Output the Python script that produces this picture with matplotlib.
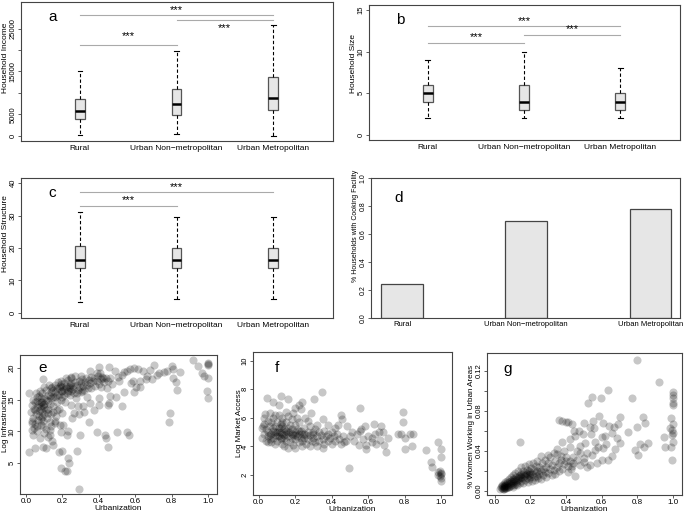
import numpy as np
import matplotlib
matplotlib.use("Agg")
import matplotlib.pyplot as plt

plt.rcParams['font.family'] = ['Liberation Sans', 'DejaVu Sans']

# ---- data ----
groups = ["Rural", "Urban Non\u2212metropolitan", "Urban Metropolitan"]

# boxplot summaries: whisker low, q1, median, q3, whisker high
income_stats = [(300, 4040, 5740, 8540, 15200),
                (470, 4970, 7370, 10940, 19870),
                (80, 5980, 8920, 13810, 25760)]
size_stats = [(2, 4, 5, 6, 9),
              (2, 3, 4, 6, 10),
              (2, 3, 4, 5, 8)]
structure_stats = [(3.3, 13.7, 16.4, 20.7, 31.1),
                   (4.35, 13.7, 16.3, 20.0, 29.5),
                   (4.35, 13.7, 16.2, 20.0, 29.5)]

# significance bars: (from, to, line level, star level)
income_sig = [(1, 3, 28100, 29300), (2, 3, 27080, 25200), (1, 2, 21100, 23300)]
size_sig = [(1, 3, 13.05, 13.7), (2, 3, 12.0, 12.7), (1, 2, 11.0, 11.7)]
structure_sig = [(1, 3, 37.2, 38.8), (1, 2, 33.1, 34.8)]

cooking = [0.246, 0.691, 0.778]

e_pts = [
    (0.018, 6.8), (0.294, 0.9), (0.193, 4.2), (0.224, 3.7), (0.215, 3.8), (0.237, 5.1), (0.23, 5.8),
    (0.283, 6.9), (0.184, 6.8), (0.197, 7.0), (0.096, 7.5), (0.11, 7.4), (0.05, 7.4), (0.15, 7.8),
    (0.298, 9.4), (0.226, 9.5), (0.23, 10.1), (0.19, 9.9), (0.206, 11.1), (0.187, 11.1),
    (0.349, 11.5), (0.393, 9.9), (0.436, 9.4), (0.44, 8.9), (0.449, 7.6), (0.5, 9.9), (0.555, 9.9),
    (0.564, 9.5), (0.785, 11.5), (0.794, 12.9), (0.831, 16.6), (0.496, 15.5), (0.463, 15.6),
    (0.528, 14.0), (0.54, 16.2), (0.596, 16.2), (0.629, 17.0), (0.996, 16.3), (1.0, 15.3),
    (0.969, 19.2), (0.98, 18.7), (0.919, 21.2), (0.945, 20.3), (1.0, 20.8), (1.0, 20.4), (1.0, 20.6),
    (1.0, 18.4), (0.81, 18.4), (0.827, 17.8), (0.81, 19.9), (0.8, 20.3), (0.776, 19.5), (0.757, 19.4),
    (0.73, 19.2), (0.849, 19.4), (0.702, 20.4), (0.684, 19.7), (0.665, 18.7), (0.662, 18.3),
    (0.693, 18.3), (0.72, 18.9), (0.643, 19.6), (0.596, 20.0), (0.614, 19.9), (0.574, 19.9),
    (0.555, 19.5), (0.528, 18.9), (0.504, 18.6), (0.509, 17.9), (0.54, 19.4), (0.577, 17.6),
    (0.607, 17.0), (0.588, 18.0), (0.629, 18.0), (0.49, 19.6), (0.454, 20.1), (0.408, 19.2),
    (0.423, 18.4), (0.46, 18.5), (0.472, 17.5), (0.445, 16.9), (0.454, 14.5), (0.449, 14.1),
    (0.404, 14.1), (0.399, 15.3), (0.375, 13.4), (0.353, 14.5), (0.312, 14.0), (0.32, 13.1),
    (0.289, 12.7), (0.265, 12.9), (0.252, 12.2), (0.285, 14.0), (0.335, 15.5), (0.307, 16.3),
    (0.132, 9.4), (0.142, 8.5), (0.077, 9.0), (0.04, 9.5), (0.031, 10.3), (0.059, 10.8), (0.096, 10.8),
    (0.13, 10.3), (0.16, 11.6), (0.169, 13.4), (0.018, 16.1), (0.031, 11.6), (0.092, 18.2),
    (0.404, 20.1), (0.353, 19.5), (0.39, 19.2), (0.3, 18.8), (0.25, 18.6), (0.22, 18.5), (0.27, 18.7),
    (0.03, 13.0), (0.035, 14.2), (0.04, 12.1), (0.04, 15.0), (0.045, 13.6), (0.05, 11.2), (0.05, 14.6),
    (0.055, 12.8), (0.055, 16.0), (0.06, 13.9), (0.06, 10.1), (0.06, 15.4), (0.07, 12.4), (0.07, 14.3),
    (0.075, 16.4), (0.08, 11.0), (0.08, 13.5), (0.08, 15.2), (0.085, 12.0), (0.085, 14.7), (0.09, 13.0),
    (0.09, 16.0), (0.095, 11.6), (0.095, 14.1), (0.1, 12.7), (0.1, 15.3), (0.1, 17.0), (0.1, 13.8),
    (0.11, 14.9), (0.11, 16.5), (0.115, 12.2), (0.12, 13.6), (0.12, 15.8), (0.125, 17.3), (0.13, 14.4),
    (0.13, 11.5), (0.135, 16.2), (0.14, 12.8), (0.14, 15.2), (0.145, 17.0), (0.15, 14.0), (0.15, 16.6),
    (0.15, 13.0), (0.16, 15.5), (0.16, 17.4), (0.165, 12.4), (0.17, 14.6), (0.17, 16.8), (0.175, 17.8),
    (0.18, 15.8), (0.18, 13.5), (0.185, 17.2), (0.19, 16.3), (0.19, 14.9), (0.195, 18.0), (0.2, 17.0),
    (0.2, 15.4), (0.2, 12.9), (0.21, 16.6), (0.21, 17.7), (0.215, 14.6), (0.22, 17.2), (0.225, 16.0),
    (0.23, 18.1), (0.235, 17.0), (0.24, 15.7), (0.24, 16.8), (0.245, 17.6), (0.25, 16.3), (0.25, 18.4),
    (0.25, 14.2), (0.26, 17.1), (0.265, 16.0), (0.27, 17.8), (0.275, 15.2), (0.28, 17.3), (0.285, 16.6),
    (0.29, 18.0), (0.295, 17.0), (0.3, 16.2), (0.3, 17.6), (0.31, 18.2), (0.315, 17.2), (0.32, 16.6),
    (0.325, 17.8), (0.33, 18.5), (0.335, 17.4), (0.34, 16.9), (0.345, 18.1), (0.35, 17.6), (0.355, 18.6),
    (0.36, 16.8), (0.37, 17.9), (0.375, 18.4), (0.38, 17.2), (0.39, 18.0), (0.395, 18.7), (0.4, 17.5),
    (0.41, 18.2), (0.415, 17.0), (0.42, 18.6), (0.43, 17.8), (0.44, 18.4), (0.45, 18.0),
    (0.06, 14.8), (0.07, 13.2), (0.08, 14.0), (0.09, 14.6), (0.1, 14.4), (0.11, 13.4), (0.12, 14.8),
    (0.13, 15.6), (0.14, 16.8), (0.15, 15.4), (0.16, 16.2), (0.17, 15.8), (0.18, 16.9), (0.19, 17.5),
    (0.2, 16.4), (0.21, 15.8), (0.22, 16.8), (0.23, 16.4), (0.24, 17.4), (0.26, 16.7), (0.28, 16.0),
    (0.07, 15.6), (0.05, 13.4), (0.09, 12.3), (0.12, 12.9), (0.065, 11.8), (0.045, 10.6), (0.035, 11.3),
    (0.11, 10.4), (0.14, 10.9), (0.16, 11.3), (0.12, 9.2), (0.1, 9.7),
]

f_pts = [
    (0.024, 5.45), (0.048, 7.4), (0.037, 6.27), (0.079, 7.08), (0.125, 7.55), (0.158, 7.3), (0.11, 6.9),
    (0.198, 6.7), (0.238, 7.08), (0.231, 6.6), (0.304, 7.3), (0.348, 7.78), (0.286, 6.3), (0.22, 6.9),
    (0.253, 6.0), (0.353, 5.9), (0.45, 6.2), (0.458, 5.9), (0.432, 5.5), (0.482, 5.4), (0.494, 2.5),
    (0.555, 6.66), (0.56, 5.2), (0.555, 5.1), (0.6, 4.75), (0.619, 4.3), (0.586, 3.8), (0.59, 4.1),
    (0.66, 5.0), (0.67, 5.4), (0.683, 5.03), (0.707, 4.6), (0.689, 4.1), (0.70, 3.6), (0.665, 4.45),
    (0.637, 4.9), (0.762, 4.84), (0.78, 4.9), (0.788, 6.4), (0.793, 5.7), (0.802, 4.6), (0.802, 3.8),
    (0.83, 4.9), (0.848, 4.84), (0.839, 4.05), (0.916, 3.75), (0.943, 2.93), (0.952, 2.58),
    (0.982, 4.28), (1.0, 3.8), (1.0, 3.28), (0.985, 2.19), (1.0, 2.05), (0.995, 1.9), (1.0, 1.77),
    (1.0, 1.58), (0.98, 2.0), (0.995, 2.3), (1.0, 2.15),
    (0.5, 4.7), (0.52, 4.4), (0.54, 4.9), (0.57, 4.5), (0.62, 4.6), (0.64, 4.2), (0.55, 4.1), (0.47, 4.3),
    (0.51, 5.0), (0.58, 5.4), (0.63, 5.6),
    (0.02, 4.6), (0.02, 5.3), (0.03, 4.9), (0.03, 5.6), (0.04, 4.4), (0.04, 5.2), (0.05, 4.7), (0.05, 5.8),
    (0.05, 5.0), (0.06, 4.5), (0.06, 5.4), (0.07, 4.9), (0.07, 5.7), (0.07, 4.3), (0.08, 5.1), (0.08, 4.6),
    (0.08, 6.0), (0.09, 4.8), (0.09, 5.4), (0.1, 4.4), (0.1, 5.0), (0.1, 5.7), (0.11, 4.7), (0.11, 5.3),
    (0.11, 6.2), (0.12, 4.5), (0.12, 5.0), (0.12, 5.6), (0.13, 4.2), (0.13, 4.9), (0.13, 5.4), (0.13, 6.0),
    (0.14, 4.6), (0.14, 5.2), (0.15, 4.4), (0.15, 4.9), (0.15, 5.7), (0.16, 4.7), (0.16, 5.3), (0.16, 6.1),
    (0.17, 4.3), (0.17, 5.0), (0.17, 5.5), (0.18, 4.6), (0.18, 5.2), (0.18, 5.9), (0.19, 4.8), (0.19, 4.1),
    (0.2, 5.0), (0.2, 4.5), (0.2, 5.5), (0.21, 4.7), (0.21, 5.2), (0.22, 4.3), (0.22, 4.9), (0.22, 5.7),
    (0.23, 4.6), (0.23, 5.1), (0.24, 4.4), (0.24, 4.9), (0.25, 5.3), (0.25, 4.6), (0.26, 4.8), (0.26, 4.2),
    (0.27, 5.0), (0.27, 4.5), (0.28, 4.8), (0.28, 5.4), (0.29, 4.4), (0.3, 4.9), (0.3, 4.6), (0.31, 5.2),
    (0.31, 4.3), (0.32, 4.7), (0.33, 5.0), (0.33, 4.4), (0.34, 4.8), (0.35, 4.5), (0.36, 5.1), (0.36, 4.2),
    (0.37, 4.7), (0.38, 4.9), (0.38, 4.4), (0.39, 4.6), (0.4, 5.0), (0.4, 4.2), (0.41, 4.7), (0.42, 4.4),
    (0.43, 4.9), (0.44, 4.5), (0.45, 4.2), (0.46, 4.7), (0.48, 4.4), (0.05, 4.3), (0.09, 4.2), (0.14, 4.0),
    (0.16, 3.9), (0.2, 3.9), (0.24, 4.0), (0.28, 4.0), (0.32, 4.0), (0.35, 3.9), (0.06, 6.3), (0.03, 6.0),
    (0.09, 6.2), (0.15, 6.4), (0.19, 6.3), (0.21, 6.0), (0.27, 5.8), (0.32, 5.5), (0.38, 5.5), (0.42, 5.3),
    (0.08, 5.3), (0.1, 4.7), (0.12, 5.3), (0.14, 4.8), (0.16, 5.0), (0.18, 4.9), (0.2, 4.8), (0.12, 4.6),
    (0.09, 5.0), (0.06, 4.8), (0.15, 5.1), (0.22, 5.1), (0.25, 4.9), (0.3, 5.0), (0.13, 5.7), (0.11, 5.0),
]

g_pts = [
    (0.795, 0.131), (0.92, 0.1086), (1.0, 0.0986), (1.0, 0.096), (1.0, 0.0932), (1.0, 0.0876),
    (1.0, 0.0859), (1.0, 0.0665), (0.995, 0.0608), (1.0, 0.0575), (0.995, 0.0558), (1.0, 0.049),
    (0.995, 0.0307), (0.987, 0.0732), (0.981, 0.063), (0.95, 0.054), (0.953, 0.044), (0.99, 0.044),
    (0.143, 0.049), (0.633, 0.101), (0.596, 0.093), (0.547, 0.094), (0.521, 0.0876), (0.767, 0.0926),
    (0.749, 0.0585), (0.8, 0.064), (0.832, 0.074), (0.842, 0.0675), (0.857, 0.0475), (0.814, 0.0465),
    (0.786, 0.0408), (0.804, 0.0358), (0.838, 0.0441), (0.702, 0.0742), (0.689, 0.0665), (0.67, 0.0642),
    (0.655, 0.0575), (0.683, 0.0525), (0.609, 0.0675), (0.64, 0.065), (0.6, 0.054), (0.58, 0.044),
    (0.609, 0.0424), (0.622, 0.0465), (0.674, 0.0418), (0.633, 0.0307), (0.6, 0.0307), (0.572, 0.0274),
    (0.544, 0.0358), (0.534, 0.0257), (0.562, 0.049), (0.54, 0.0565), (0.559, 0.0625), (0.534, 0.0642),
    (0.497, 0.0565), (0.507, 0.0475), (0.479, 0.0374), (0.503, 0.029), (0.451, 0.0551), (0.447, 0.06),
    (0.432, 0.0665), (0.413, 0.0685), (0.376, 0.0699), (0.361, 0.0709), (0.398, 0.0685), (0.423, 0.044),
    (0.441, 0.0341), (0.436, 0.025), (0.413, 0.019), (0.451, 0.015), (0.38, 0.049),
    (0.585, 0.075), (0.55, 0.07), (0.5, 0.068), (0.47, 0.06), (0.52, 0.038), (0.48, 0.045), (0.46, 0.04),
    (0.56, 0.041), (0.66, 0.035), (0.7, 0.048), (0.62, 0.055), (0.42, 0.052), (0.39, 0.04), (0.4, 0.03),
    (0.37, 0.035), (0.35, 0.042), (0.33, 0.038),
    (0.03, 0.002), (0.035, 0.004), (0.04, 0.003), (0.04, 0.006), (0.045, 0.002), (0.05, 0.004),
    (0.05, 0.007), (0.055, 0.003), (0.06, 0.005), (0.06, 0.009), (0.065, 0.003), (0.07, 0.006),
    (0.07, 0.01), (0.075, 0.004), (0.08, 0.007), (0.08, 0.012), (0.085, 0.005), (0.09, 0.008),
    (0.09, 0.014), (0.095, 0.006), (0.1, 0.01), (0.1, 0.004), (0.1, 0.016), (0.105, 0.008), (0.11, 0.012),
    (0.11, 0.006), (0.115, 0.018), (0.12, 0.009), (0.12, 0.014), (0.125, 0.006), (0.13, 0.011),
    (0.13, 0.02), (0.135, 0.015), (0.14, 0.008), (0.14, 0.013), (0.145, 0.024), (0.15, 0.01),
    (0.15, 0.017), (0.155, 0.013), (0.16, 0.02), (0.16, 0.008), (0.165, 0.015), (0.17, 0.011),
    (0.17, 0.025), (0.175, 0.018), (0.18, 0.013), (0.18, 0.021), (0.185, 0.009), (0.19, 0.016),
    (0.19, 0.027), (0.195, 0.012), (0.2, 0.019), (0.2, 0.014), (0.205, 0.023), (0.21, 0.01),
    (0.21, 0.017), (0.215, 0.028), (0.22, 0.014), (0.22, 0.021), (0.225, 0.011), (0.23, 0.018),
    (0.23, 0.025), (0.235, 0.015), (0.24, 0.02), (0.24, 0.03), (0.245, 0.013), (0.25, 0.017),
    (0.25, 0.024), (0.26, 0.02), (0.26, 0.012), (0.265, 0.028), (0.27, 0.016), (0.27, 0.022),
    (0.28, 0.019), (0.28, 0.031), (0.285, 0.014), (0.29, 0.024), (0.3, 0.018), (0.3, 0.028),
    (0.31, 0.022), (0.31, 0.034), (0.32, 0.016), (0.32, 0.026), (0.33, 0.021), (0.34, 0.03),
    (0.34, 0.017), (0.35, 0.024), (0.36, 0.028), (0.36, 0.02), (0.37, 0.031), (0.38, 0.022),
    (0.39, 0.027), (0.4, 0.034), (0.41, 0.025), (0.42, 0.03), (0.43, 0.022), (0.44, 0.028),
    (0.46, 0.031), (0.48, 0.026), (0.5, 0.033), (0.52, 0.024), (0.35, 0.037), (0.3, 0.036), (0.26, 0.035),
    (0.04, 0.005), (0.05, 0.005), (0.06, 0.006), (0.07, 0.008), (0.08, 0.009), (0.09, 0.01), (0.1, 0.012),
    (0.11, 0.01), (0.12, 0.011), (0.13, 0.013), (0.14, 0.016), (0.15, 0.014), (0.16, 0.017),
    (0.17, 0.016), (0.18, 0.017), (0.19, 0.02), (0.2, 0.017), (0.08, 0.004), (0.06, 0.003),
    (0.12, 0.007), (0.07, 0.004), (0.05, 0.002),
]

# ---- styling helpers ----
SPINE = '#444444'


def frame(ax, ysize=5, xsize=6):
    for s in ax.spines.values():
        s.set_color(SPINE)
        s.set_linewidth(0.8)
    ax.tick_params(axis='both', length=2, width=0.6, color=SPINE, pad=1.2)
    ax.tick_params(axis='y', labelsize=ysize, labelrotation=90)
    ax.tick_params(axis='x', labelsize=xsize)
    for t in ax.get_yticklabels():
        t.set_va('center')


def place_ylabel(ax, text, size, lx, ly):
    ax.set_ylabel(text, fontsize=size)
    ax.yaxis.label.set_va('center')
    ax.yaxis.set_label_coords(lx, ly)


def box_panel(ax, stats, sig, ylab, letter, ylim, yticks, ylabels, ly):
    bstats = [dict(whislo=s[0], q1=s[1], med=s[2], q3=s[3], whishi=s[4], fliers=[]) for s in stats]
    ax.bxp(bstats, positions=[1, 2, 3], widths=0.1, patch_artist=True, showfliers=False,
           capwidths=0.05,
           boxprops=dict(facecolor='#e6e6e6', edgecolor='#555555', linewidth=0.9),
           medianprops=dict(color='black', linewidth=1.8),
           whiskerprops=dict(color='black', linewidth=0.8, linestyle=(0, (3, 2))),
           capprops=dict(color='black', linewidth=0.8))
    for x0, x1, yl, ys in sig:
        ax.plot([x0, x1], [yl, yl], color='#aaaaaa', lw=0.8)
        ax.text((x0 + x1) / 2, ys, '***', ha='center', va='center', fontsize=8)
    ax.set_xlim(0.39, 3.62)
    ax.set_ylim(*ylim)
    ax.set_xticks([1, 2, 3])
    ax.set_xticklabels(groups)
    ax.set_yticks(yticks)
    ax.set_yticklabels(ylabels)
    place_ylabel(ax, ylab, 6, -0.051, ly)
    frame(ax, ysize=5.5)
    ax.tick_params(axis='x', length=0, pad=3)
    ax.text(0.10, 0.89, letter, transform=ax.transAxes, fontsize=11, ha='center', va='center')


def scatter_panel(ax, pts, ylab, letter, xlim, ylim, yticks, ylabels, lx, ly, labx, laby):
    x = [p[0] for p in pts]
    y = [p[1] for p in pts]
    ax.scatter(x, y, s=34, color='black', alpha=0.22, linewidths=0)
    ax.set_xlim(*xlim)
    ax.set_ylim(*ylim)
    ax.set_xticks([0, 0.2, 0.4, 0.6, 0.8, 1.0])
    ax.set_xticklabels(['0.0', '0.2', '0.4', '0.6', '0.8', '1.0'])
    ax.set_yticks(yticks)
    ax.set_yticklabels(ylabels)
    ax.set_xlabel('Urbanization', fontsize=6, labelpad=0)
    place_ylabel(ax, ylab, 5.8, labx, laby)
    frame(ax, ysize=5.5, xsize=5.8)
    ax.text(lx, ly, letter, transform=ax.transAxes, fontsize=11, ha='center', va='center')


fig = plt.figure(figsize=(6.85, 5.14), dpi=100)
W, H = 685, 514


def add(l, t, r, b):
    return fig.add_axes([l / W, 1 - b / H, (r - l) / W, (b - t) / H])


ax_a = add(21, 2, 333, 141)
ax_b = add(369, 5, 680, 140)
ax_c = add(21, 178, 333, 318)
ax_d = add(371, 178, 680, 318)
ax_e = add(20, 355, 217, 494)
ax_f = add(253, 352, 452, 495)
ax_g = add(487, 353, 682, 495)

box_panel(ax_a, income_stats, income_sig, 'Household Income', 'a', (-1200, 31200),
          [0, 5000, 10000, 15000, 20000, 25000], ['0', '5000', '', '15000', '', '25000'], 0.60)
box_panel(ax_b, size_stats, size_sig, 'Household Size', 'b', (-0.6, 15.6),
          [0, 5, 10, 15], ['0', '5', '10', '15'], 0.57)
box_panel(ax_c, structure_stats, structure_sig, 'Household Structure', 'c', (-1.6, 41.6),
          [0, 10, 20, 30, 40], ['0', '10', '20', '30', '40'], 0.60)

# panel d bars
ax_d.bar([0, 1, 2], cooking, width=0.333, color='#e6e6e6', edgecolor='#444444', linewidth=0.9)
ax_d.set_xlim(-0.25, 2.24)
ax_d.set_ylim(0, 1)
ax_d.set_xticks([0, 1, 2])
ax_d.set_xticklabels(groups)
ax_d.set_yticks([0, 0.2, 0.4, 0.6, 0.8, 1.0])
ax_d.set_yticklabels(['0.0', '0.2', '0.4', '0.6', '0.8', '1.0'])
place_ylabel(ax_d, '% Households with Cooking Facility', 5, -0.049, 0.66)
frame(ax_d, ysize=5, xsize=5.5)
ax_d.tick_params(axis='x', length=0, pad=2)
ax_d.text(0.09, 0.86, 'd', transform=ax_d.transAxes, fontsize=11, ha='center', va='center')

scatter_panel(ax_e, e_pts, 'Log Infrastructure', 'e', (-0.033, 1.05), (0.15, 22.05),
              [5, 10, 15, 20], ['5', '10', '15', '20'], 0.117, 0.91, -0.076, 0.525)
scatter_panel(ax_f, f_pts, 'Log Market Access', 'f', (-0.031, 1.059), (0.6, 10.6),
              [2, 4, 6, 8, 10], ['2', '4', '6', '8', '10'], 0.12, 0.89, -0.07, 0.5)
scatter_panel(ax_g, g_pts, '% Women Working in Urban Areas', 'g', (-0.043, 1.05), (-0.0043, 0.1377),
              [0, 0.02, 0.04, 0.06, 0.08, 0.10, 0.12], ['0.00', '', '0.04', '', '0.08', '', '0.12'],
              0.108, 0.89, -0.077, 0.48)

fig.savefig('out.png', dpi=100)
